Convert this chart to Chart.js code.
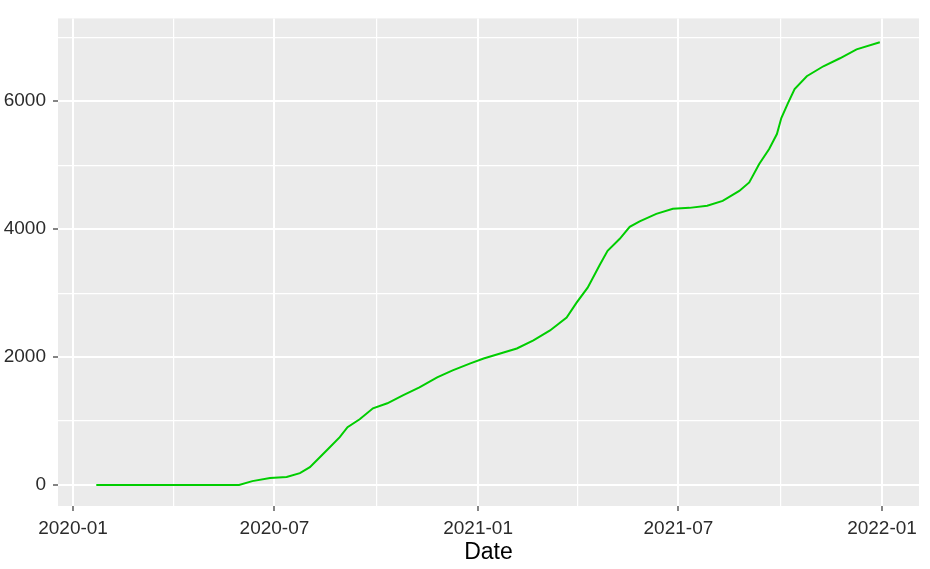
<!DOCTYPE html>
<html>
<head>
<meta charset="utf-8">
<style>
  html, body { margin: 0; padding: 0; background: #ffffff; }
  #c { display: block; }
</style>
<script src="https://cdn.jsdelivr.net/npm/chart.js@4.4.1/dist/chart.umd.min.js"></script>
</head>
<body>
<canvas id="c" width="930" height="569"></canvas>
<script>
// ---- data ----
const dates = [
  "2020-01-22","2020-03-01","2020-05-30","2020-06-11","2020-06-27","2020-07-12",
  "2020-07-24","2020-08-02","2020-08-11","2020-08-20","2020-08-29","2020-09-05",
  "2020-09-16","2020-09-28","2020-10-11","2020-10-25","2020-11-09","2020-11-25",
  "2020-12-09","2020-12-25","2021-01-06","2021-01-24","2021-02-05","2021-02-20",
  "2021-03-07","2021-03-22","2021-03-31","2021-04-10","2021-04-21","2021-04-28",
  "2021-05-09","2021-05-18","2021-05-27","2021-06-11","2021-06-26","2021-07-11",
  "2021-07-27","2021-08-10","2021-08-25","2021-09-03","2021-09-12","2021-09-21",
  "2021-09-28","2021-10-02","2021-10-08","2021-10-14","2021-10-25","2021-11-09",
  "2021-11-24","2021-12-09","2021-12-30"
];
const cases = [
  0, 0, 3, 62, 109, 125,
  187, 280, 436, 592, 748, 904,
  1029, 1200, 1278, 1403, 1527, 1683,
  1792, 1901, 1979, 2073, 2135, 2260,
  2416, 2618, 2852, 3086, 3444, 3662,
  3849, 4036, 4122, 4239, 4317, 4332,
  4364, 4441, 4597, 4730, 5018, 5252,
  5486, 5735, 5969, 6187, 6389, 6545,
  6670, 6810, 6919
];
const xMajorTicks = ["2020-01-01","2020-07-01","2021-01-01","2021-07-01","2022-01-01"];
const xMinorTicks = ["2020-04-01","2020-10-01","2021-04-01","2021-10-01"];
const yMajorTicks = [0, 2000, 4000, 6000];
const yMinorTicks = [1000, 3000, 5000, 7000];
const xTitle = "Date";

// ---- helpers ----
const DAY = 86400000;
const toDay = s => Date.parse(s + "T00:00:00Z") / DAY;
const fmt = d => {
  const dt = new Date(d * DAY);
  return dt.getUTCFullYear() + "-" + String(dt.getUTCMonth() + 1).padStart(2, "0");
};
const points = dates.map((d, i) => ({ x: toDay(d), y: cases[i] }));
const xMajorSet = new Set(xMajorTicks.map(toDay));
const yMajorSet = new Set(yMajorTicks);
const FONT = "'Liberation Sans', Arial, sans-serif";

const panelBg = {
  id: "panelBg",
  beforeDraw(chart) {
    const { ctx, chartArea: a } = chart;
    ctx.save();
    ctx.fillStyle = "#EBEBEB";
    ctx.fillRect(a.left, a.top, a.right - a.left, a.bottom - a.top);
    ctx.restore();
  }
};

new Chart(document.getElementById("c"), {
  type: "line",
  data: {
    datasets: [{
      data: points,
      borderColor: "#00CD00",
      borderWidth: 2,
      pointRadius: 0,
      tension: 0,
      fill: false
    }]
  },
  options: {
    responsive: false,
    animation: false,
    events: [],
    layout: { padding: { top: 17, right: 11, left: 0, bottom: 0 } },
    plugins: { legend: { display: false }, tooltip: { enabled: false } },
    scales: {
      x: {
        type: "linear",
        min: toDay("2020-01-01") - 13.6,
        max: toDay("2022-01-01") + 33.4,
        afterBuildTicks(scale) {
          const all = xMajorTicks.map(toDay).concat(xMinorTicks.map(toDay)).sort((a, b) => a - b);
          scale.ticks = all.map(v => ({ value: v }));
        },
        afterFit(scale) { scale.height = 63; },
        border: { display: false },
        grid: {
          drawOnChartArea: true,
          color: "#FFFFFF",
          lineWidth: c => (c.tick && xMajorSet.has(c.tick.value)) ? 2 : 1.2,
          tickLength: 5,
          tickWidth: 1.2,
          tickColor: c => (c.tick && xMajorSet.has(c.tick.value)) ? "#333333" : "rgba(0,0,0,0)"
        },
        ticks: {
          autoSkip: false,
          maxRotation: 0,
          padding: 6,
          color: "#2b2b2b",
          font: { family: FONT, size: 19 },
          callback: v => xMajorSet.has(v) ? fmt(v) : ""
        },
        title: {
          display: true,
          text: xTitle,
          color: "#000000",
          font: { family: FONT, size: 23 },
          padding: { top: 0, bottom: 3 }
        }
      },
      y: {
        type: "linear",
        min: -327,
        max: 7293,
        afterBuildTicks(scale) {
          const all = yMajorTicks.concat(yMinorTicks).sort((a, b) => a - b);
          scale.ticks = all.map(v => ({ value: v }));
        },
        afterFit(scale) { scale.width = 58; },
        border: { display: false },
        grid: {
          color: "#FFFFFF",
          lineWidth: c => (c.tick && yMajorSet.has(c.tick.value)) ? 2 : 1.2,
          tickLength: 5,
          tickWidth: 1.2,
          tickColor: c => (c.tick && yMajorSet.has(c.tick.value)) ? "#333333" : "rgba(0,0,0,0)"
        },
        ticks: {
          autoSkip: false,
          padding: 7,
          color: "#2b2b2b",
          font: { family: FONT, size: 19 },
          callback: v => yMajorSet.has(v) ? String(v) : ""
        }
      }
    }
  },
  plugins: [panelBg]
});
</script>
</body>
</html>
